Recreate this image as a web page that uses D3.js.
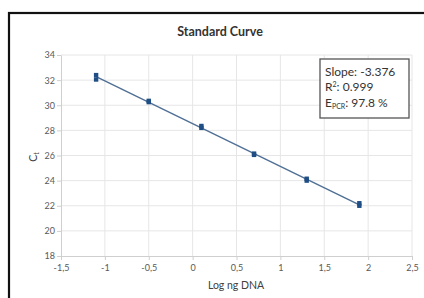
<!DOCTYPE html>
<html>
<head>
<meta charset="utf-8">
<script src="https://cdn.jsdelivr.net/npm/d3@7"></script>
<style>
  body { margin: 0; background: #fff; }
  svg { display: block; }
</style>
</head>
<body>
<div id="mainArea"></div>
<script>
// data (replicate Ct values per dilution)
var logDNA = [-1.1, -1.1, -0.5, -0.5, 0.1, 0.1, 0.7, 0.7, 1.3, 1.3, 1.9, 1.9];
var ctValues = [32.05, 32.4, 30.25, 30.35, 28.2, 28.35, 26.05, 26.15, 24.0, 24.15, 22.0, 22.2];
var xTicks = [-1.5, -1, -0.5, 0, 0.5, 1, 1.5, 2, 2.5];
var yTicks = [18, 20, 22, 24, 26, 28, 30, 32, 34];
var statLines = ["Slope: -3.376", "R²: 0.999", "E_PCR: 97.8 %"];

function mainInit() {
  var width = 424, height = 298;
  var font = "Lato, 'Open Sans', sans-serif";

  var vis = d3.select("#mainArea").append("svg")
    .attr("width", width)
    .attr("height", height);

  // outer frame (only top & left edges fall inside the picture)
  vis.append("rect")
    .attr("x", 9).attr("y", 13)
    .attr("width", 430).attr("height", 310)
    .attr("fill", "none")
    .attr("stroke", "#111")
    .attr("stroke-width", 2.2);

  var x = d3.scaleLinear().domain([-1.5, 2.5]).range([61, 412]);
  var y = d3.scaleLinear().domain([18, 34]).range([256, 55]);

  // grid
  vis.append("g").selectAll("line.gx")
    .data(xTicks.slice(1))
    .enter().append("line")
    .attr("x1", function(d) { return x(d); })
    .attr("x2", function(d) { return x(d); })
    .attr("y1", y(34)).attr("y2", y(18))
    .attr("stroke", "#e6e6e6").attr("stroke-width", 1);

  vis.append("g").selectAll("line.gy")
    .data(yTicks.slice(1))
    .enter().append("line")
    .attr("x1", x(-1.5)).attr("x2", x(2.5))
    .attr("y1", function(d) { return y(d); })
    .attr("y2", function(d) { return y(d); })
    .attr("stroke", "#e6e6e6").attr("stroke-width", 1);

  // axes
  var fmt = function(d) { return String(d).replace(".", ","); };
  var xAxis = vis.append("g")
    .attr("transform", "translate(0," + y(18) + ")")
    .call(d3.axisBottom(x).tickValues(xTicks).tickFormat(fmt).tickSize(4).tickSizeOuter(0));
  var yAxis = vis.append("g")
    .attr("transform", "translate(" + x(-1.5) + ",0)")
    .call(d3.axisLeft(y).tickValues(yTicks).tickSize(4).tickSizeOuter(0));

  [xAxis, yAxis].forEach(function(a) {
    a.select(".domain").attr("stroke", "#cfcfcf");
    a.selectAll(".tick line").attr("stroke", "#cfcfcf");
    a.selectAll("text")
      .attr("fill", "#595959")
      .style("font-family", font)
      .style("font-size", "9px");
  });
  xAxis.selectAll("text").attr("dy", "0.85em");
  yAxis.selectAll("text").attr("x", -6);

  // title & axis labels
  vis.append("text")
    .attr("x", 220).attr("y", 36)
    .attr("text-anchor", "middle")
    .style("font-family", font).style("font-weight", "bold").style("font-size", "12.5px")
    .attr("fill", "#333")
    .text("Standard Curve");

  vis.append("text")
    .attr("x", 236).attr("y", 289)
    .attr("text-anchor", "middle")
    .style("font-family", font).style("font-size", "10.5px")
    .attr("fill", "#404040")
    .text("Log ng DNA");

  var ct = vis.append("text")
    .attr("transform", "translate(37,157) rotate(-90)")
    .attr("text-anchor", "middle")
    .style("font-family", font).style("font-size", "10.5px")
    .attr("fill", "#404040");
  ct.append("tspan").text("C");
  ct.append("tspan").attr("dy", 2).style("font-size", "7px").text("t");

  // regression line
  var pts = logDNA.map(function(d, i) { return {x: d, y: ctValues[i]}; });
  var mx = d3.mean(pts, function(d) { return d.x; });
  var my = d3.mean(pts, function(d) { return d.y; });
  var slope = d3.sum(pts, function(d) { return (d.x - mx) * (d.y - my); }) /
              d3.sum(pts, function(d) { return (d.x - mx) * (d.x - mx); });
  var icpt = my - slope * mx;
  var x0 = d3.min(logDNA), x1 = d3.max(logDNA);

  vis.append("line")
    .attr("x1", x(x0)).attr("y1", y(icpt + slope * x0))
    .attr("x2", x(x1)).attr("y2", y(icpt + slope * x1))
    .attr("stroke", "#4f6f95").attr("stroke-width", 1.4);

  // markers
  vis.selectAll("rect.pt")
    .data(pts)
    .enter().append("rect")
    .attr("class", "pt")
    .attr("x", function(d) { return x(d.x) - 2.2; })
    .attr("y", function(d) { return y(d.y) - 2.2; })
    .attr("width", 4.4).attr("height", 4.4)
    .attr("fill", "#1f4e85");

  // stats box
  var bx = 320, by = 59;
  vis.append("rect")
    .attr("x", bx).attr("y", by)
    .attr("width", 89).attr("height", 59)
    .attr("fill", "#fff")
    .attr("stroke", "#555").attr("stroke-width", 1.3);

  var lineY = [76, 91, 107];
  statLines.forEach(function(s, i) {
    var t = vis.append("text")
      .attr("x", bx + 5).attr("y", lineY[i])
      .style("font-family", font).style("font-size", "12px")
      .attr("fill", "#333");
    if (s.indexOf("R²") === 0) {
      t.append("tspan").text("R");
      t.append("tspan").attr("dy", -4).style("font-size", "7px").text("2");
      t.append("tspan").attr("dy", 4).text(s.slice(2));
    } else if (s.indexOf("E_PCR") === 0) {
      t.append("tspan").text("E");
      t.append("tspan").attr("dy", 2).style("font-size", "7px").text("PCR");
      t.append("tspan").attr("dy", -2).text(s.slice(5));
    } else {
      t.text(s);
    }
  });
}

window.onload = mainInit;
</script>
</body>
</html>
